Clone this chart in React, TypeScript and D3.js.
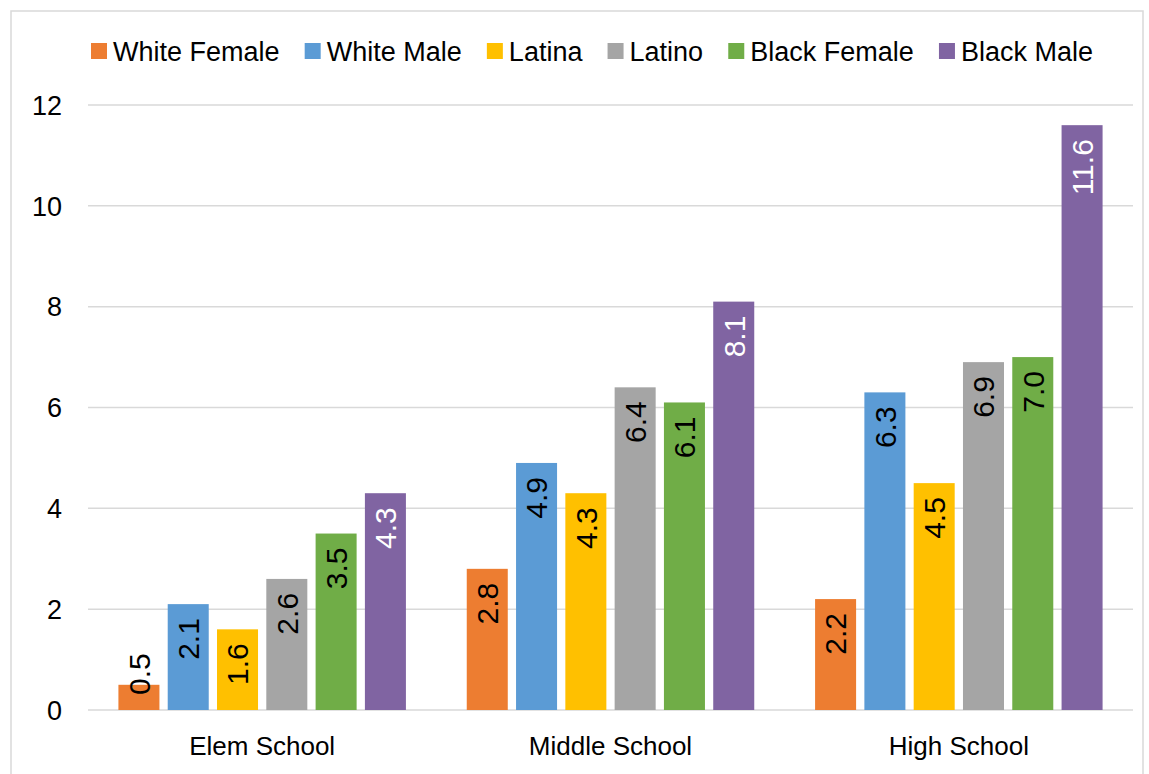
import * as d3 from "d3";
import { useMemo } from "react";

const categories = ["Elem School", "Middle School", "High School"];
const seriesNames = ["White Female", "White Male", "Latina", "Latino", "Black Female", "Black Male"];
const whiteFemale = [0.5, 2.8, 2.2];
const whiteMale = [2.1, 4.9, 6.3];
const latina = [1.6, 4.3, 4.5];
const latino = [2.6, 6.4, 6.9];
const blackFemale = [3.5, 6.1, 7.0];
const blackMale = [4.3, 8.1, 11.6];
const yTicks = [0, 2, 4, 6, 8, 10, 12];

const seriesValues = [whiteFemale, whiteMale, latina, latino, blackFemale, blackMale];
const colors = ["#ED7D31", "#5B9BD5", "#FFC000", "#A5A5A5", "#70AD47", "#8064A2"];
const labelColors = ["#000", "#000", "#000", "#000", "#000", "#fff"];

const FONT = '"Liberation Sans", Arial, sans-serif';

export default function App() {
  const width = 1149;
  const height = 774;
  const plot = { left: 88, right: 1133, top: 105, bottom: 710 };

  const x0 = d3.scaleBand().domain(categories).range([plot.left, plot.right]).padding(0);
  const x1 = d3
    .scaleBand()
    .domain(seriesNames)
    .range([0, x0.bandwidth()])
    .paddingInner(0.168)
    .paddingOuter(0.617);
  const y = d3.scaleLinear().domain([0, 12]).range([plot.bottom, plot.top]);

  const labelSize = 30;
  const fmt = d3.format(".1f");

  // canvas text measurement for legend layout and label fitting
  const measure = useMemo(() => {
    const ctx = document.createElement("canvas").getContext("2d")!;
    return (s: string, size: number) => {
      ctx.font = `${size}px ${FONT}`;
      return ctx.measureText(s).width;
    };
  }, []);

  const legendSize = 27;
  const legendItems = useMemo(() => {
    const widths = seriesNames.map(n => measure(n, legendSize));
    const start = 91;
    const end = 1093;
    const gap = (end - start - d3.sum(widths) - seriesNames.length * 22) / (seriesNames.length - 1);
    let cx = start;
    return seriesNames.map((n, i) => {
      const item = { name: n, x: cx, color: colors[i] };
      cx += 22 + widths[i] + gap;
      return item;
    });
  }, [measure]);

  return (
    <svg
      width={width}
      height={height}
      style={{ position: "fixed", left: 0, top: 0, background: "#fff" }}
      fontFamily={FONT}
    >
      <rect x={11} y={11} width={1132} height={800} fill="#fff" stroke="#d9d9d9" strokeWidth={1.5} />

      {/* Legend */}
      {legendItems.map(d => (
        <g key={d.name}>
          <rect x={d.x} y={43} width={16} height={16} fill={d.color} />
          <text x={d.x + 22} y={61} fontSize={legendSize} fill="#000">
            {d.name}
          </text>
        </g>
      ))}

      {/* Grid + y ticks */}
      {yTicks.map(t => (
        <g key={t}>
          <line x1={plot.left} x2={plot.right} y1={y(t)} y2={y(t)} stroke="#d9d9d9" strokeWidth={1.5} />
          <text x={62} y={y(t)} dy="0.36em" textAnchor="end" fontSize={27} fill="#000">
            {t}
          </text>
        </g>
      ))}

      {/* Bars */}
      {categories.map((c, ci) => (
        <g key={c} transform={`translate(${x0(c)},0)`}>
          {seriesNames.map((s, si) => {
            const v = seriesValues[si][ci];
            const bx = x1(s) ?? 0;
            const bw = x1.bandwidth();
            const top = y(v);
            const cx = bx + bw / 2;
            const label = fmt(v);
            const len = measure(label, labelSize);
            const fits = plot.bottom - top >= len + 28;
            const ly = fits ? top + 14 : plot.bottom - 15;
            return (
              <g key={s}>
                <rect x={bx} y={top} width={bw} height={plot.bottom - top} fill={colors[si]} />
                <text
                  transform={`translate(${cx},${ly}) rotate(-90)`}
                  dy="0.36em"
                  textAnchor={fits ? "end" : "start"}
                  fontSize={labelSize}
                  fill={fits ? labelColors[si] : "#000"}
                >
                  {label}
                </text>
              </g>
            );
          })}
          <text x={x0.bandwidth() / 2} y={755} textAnchor="middle" fontSize={26} fill="#000">
            {c}
          </text>
        </g>
      ))}
    </svg>
  );
}
